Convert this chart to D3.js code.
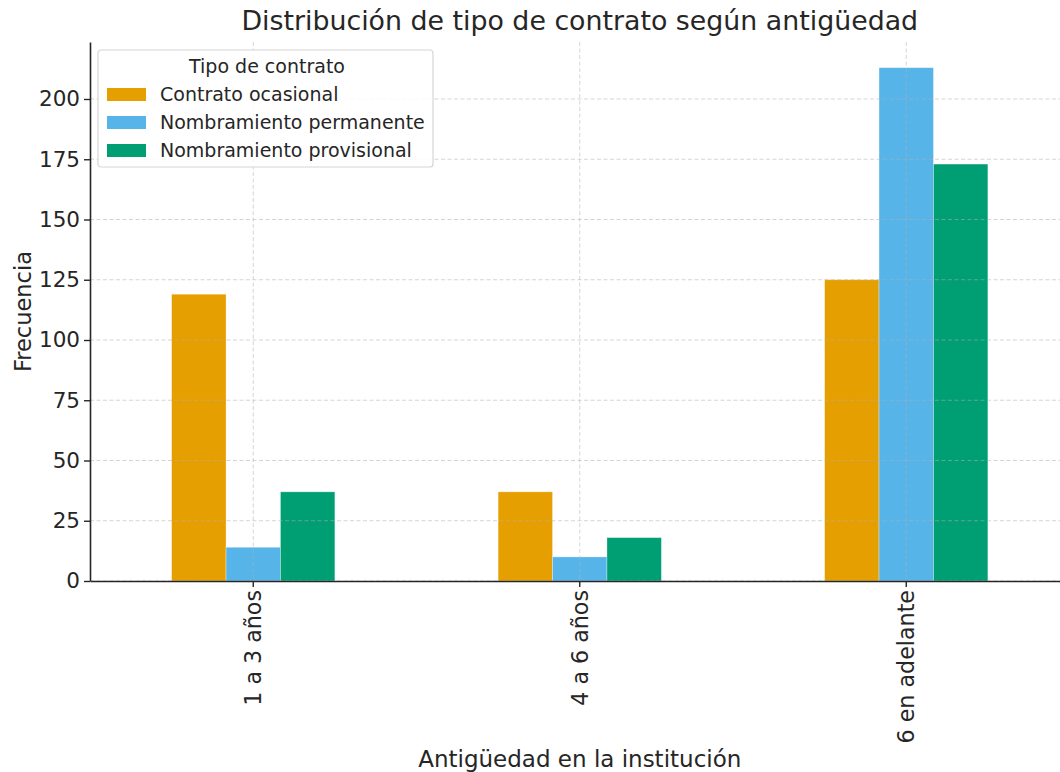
<!DOCTYPE html>
<html>
<head>
<meta charset="utf-8">
<script src="https://cdn.jsdelivr.net/npm/d3@7"></script>
<style>
  body { margin: 0; background: #fff; }
  svg { font-family: "DejaVu Sans", sans-serif; }
</style>
</head>
<body>
<svg id="chart" width="1060" height="772"></svg>
<script>
// categories and series
const categories = ["1 a 3 años", "4 a 6 años", "6 en adelante"];
const seriesNames = ["Contrato ocasional", "Nombramiento permanente", "Nombramiento provisional"];
const ocasional = [119, 37, 125];
const permanente = [14, 10, 213];
const provisional = [37, 18, 173];
const yTicks = [0, 25, 50, 75, 100, 125, 150, 175, 200];
const colors = ["#E69F00", "#56B4E9", "#009E73"];

const seriesValues = [ocasional, permanente, provisional];

const svg = d3.select("#chart");
const margin = { top: 42, left: 90, bottom: 581, right: 1069.5 };

const x = d3.scaleBand()
    .domain(categories)
    .range([margin.left, margin.right])
    .paddingInner(0.5)
    .paddingOuter(0.25);

const xSub = d3.scaleBand()
    .domain(seriesNames)
    .range([0, x.bandwidth()]);

const yMax = d3.max(seriesValues.flat()) * 1.05;
const y = d3.scaleLinear()
    .domain([0, yMax])
    .range([margin.bottom, margin.top]);

// bars
const groups = svg.append("g")
    .selectAll("g")
    .data(categories)
    .join("g")
    .attr("transform", d => `translate(${x(d)},0)`);

groups.selectAll("rect")
    .data((c, i) => seriesNames.map((s, j) => ({ s, j, v: seriesValues[j][i] })))
    .join("rect")
    .attr("x", d => xSub(d.s))
    .attr("y", d => y(d.v))
    .attr("width", xSub.bandwidth())
    .attr("height", d => y(0) - y(d.v))
    .attr("fill", d => colors[d.j])
    .attr("stroke", "#fff")
    .attr("stroke-opacity", 0.4)
    .attr("stroke-width", 0.8);

// grid on top of bars
const grid = svg.append("g")
    .attr("stroke", "#b0b0b0")
    .attr("stroke-opacity", 0.6)
    .attr("stroke-dasharray", "4,2.5")
    .attr("stroke-width", 0.9);

grid.selectAll(".hgrid")
    .data(yTicks)
    .join("line")
    .attr("x1", margin.left)
    .attr("x2", margin.right)
    .attr("y1", d => y(d))
    .attr("y2", d => y(d));

grid.selectAll(".vgrid")
    .data(categories)
    .join("line")
    .attr("x1", d => x(d) + x.bandwidth() / 2)
    .attr("x2", d => x(d) + x.bandwidth() / 2)
    .attr("y1", margin.top)
    .attr("y2", margin.bottom);

// y axis
const yAxis = svg.append("g")
    .attr("transform", `translate(${margin.left},0)`)
    .call(d3.axisLeft(y).tickValues(yTicks).tickSize(6).tickPadding(4).tickSizeOuter(0));
yAxis.select(".domain").attr("stroke", "#262626").attr("stroke-width", 1.6);
yAxis.selectAll(".tick line").attr("stroke", "#262626").attr("stroke-width", 1.4);
yAxis.selectAll(".tick text").attr("font-size", 21.5).attr("fill", "#262626")
    .attr("font-family", "DejaVu Sans");

// x axis
const xAxis = svg.append("g")
    .attr("transform", `translate(0,${margin.bottom})`)
    .call(d3.axisBottom(x).tickSize(6).tickPadding(4).tickSizeOuter(0));
xAxis.select(".domain").attr("stroke", "#262626").attr("stroke-width", 1.6);
xAxis.selectAll(".tick line").attr("stroke", "#262626").attr("stroke-width", 1.4);
xAxis.selectAll(".tick text")
    .attr("font-size", 22.2)
    .attr("fill", "#262626")
    .attr("font-family", "DejaVu Sans")
    .attr("transform", "rotate(-90)")
    .attr("text-anchor", "end")
    .attr("x", -9)
    .attr("y", 0)
    .attr("dy", "0.35em");

// title and axis labels
svg.append("text")
    .attr("x", (margin.left + margin.right) / 2)
    .attr("y", 30)
    .attr("text-anchor", "middle")
    .attr("font-size", 26.8)
    .attr("fill", "#262626")
    .text("Distribución de tipo de contrato según antigüedad");

svg.append("text")
    .attr("x", (margin.left + margin.right) / 2)
    .attr("y", 767)
    .attr("text-anchor", "middle")
    .attr("font-size", 23)
    .attr("fill", "#262626")
    .text("Antigüedad en la institución");

svg.append("text")
    .attr("transform", `translate(31,${(margin.top + margin.bottom) / 2}) rotate(-90)`)
    .attr("text-anchor", "middle")
    .attr("font-size", 22.5)
    .attr("fill", "#262626")
    .text("Frecuencia");

// legend
const legend = svg.append("g").attr("transform", "translate(98,50)");
legend.append("rect")
    .attr("width", 335)
    .attr("height", 117)
    .attr("rx", 3)
    .attr("fill", "#fff")
    .attr("fill-opacity", 0.85)
    .attr("stroke", "#d6d6d6")
    .attr("stroke-width", 1.2);
legend.append("text")
    .attr("x", 169)
    .attr("y", 23)
    .attr("text-anchor", "middle")
    .attr("font-size", 19)
    .attr("fill", "#262626")
    .text("Tipo de contrato");

const items = legend.selectAll(".item")
    .data(seriesNames)
    .join("g")
    .attr("transform", (d, i) => `translate(9,${38 + i * 28})`);
items.append("rect")
    .attr("width", 39)
    .attr("height", 13)
    .attr("fill", (d, i) => colors[i]);
items.append("text")
    .attr("x", 53)
    .attr("y", 6.5)
    .attr("dy", "0.35em")
    .attr("font-size", 19)
    .attr("fill", "#262626")
    .text(d => d);
</script>
</body>
</html>
